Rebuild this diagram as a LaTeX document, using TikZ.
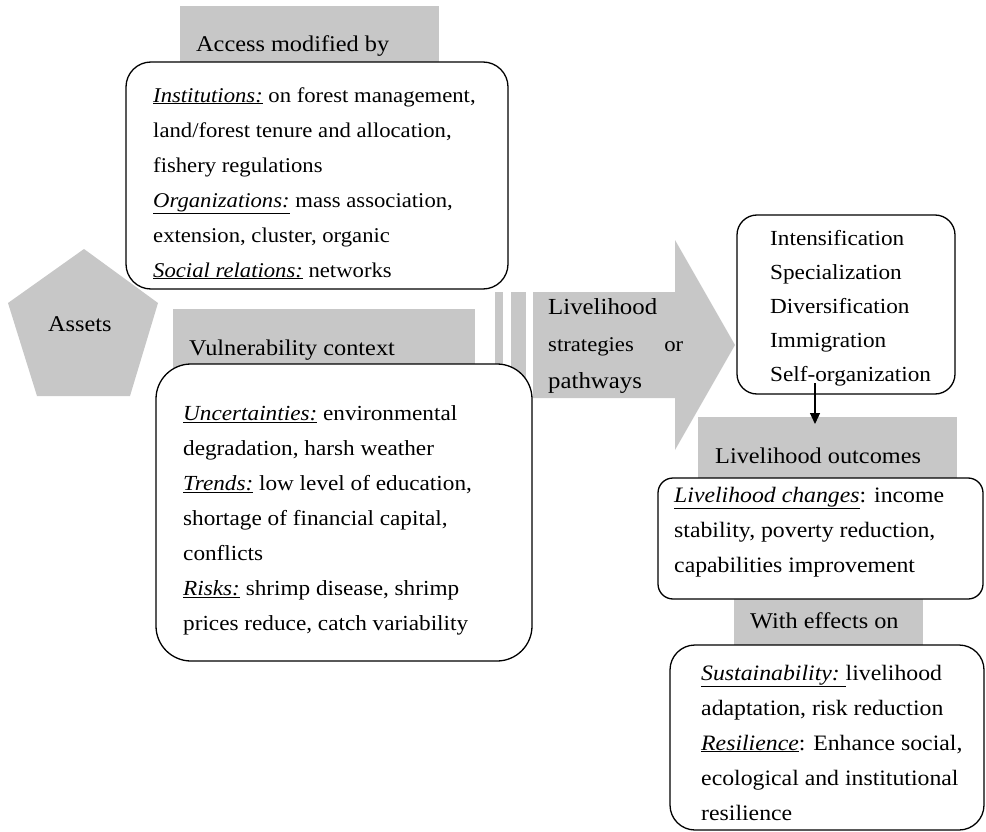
\documentclass[tikz,border=0pt]{standalone}
\usepackage{fontspec}
\setmainfont[FakeStretch=1.08]{Liberation Serif}
\usetikzlibrary{arrows.meta}
\definecolor{panel}{RGB}{199,199,199}
\newcommand{\lbl}[1]{\underline{\textit{#1}}}
\begin{document}
\begin{tikzpicture}[x=1pt,y=-1pt,
  band/.style={fill=panel,draw=none,anchor=north west,inner sep=0pt,outer sep=0pt},
  card/.style={draw=black,line width=1.3pt,fill=white,anchor=north west,
    inner sep=0pt,outer sep=0pt,rounded corners=#1},
  card/.default=25pt,
  % multi-line texts are placed by the baseline of their last line
  body/.style={anchor=base west,align=left,inner sep=0pt,
    font=\fontsize{#1}{35}\selectfont},
  body/.default=21,
  heading/.style={anchor=base west,inner sep=0pt,font=\fontsize{22.5}{25}\selectfont},
  flow/.style={line width=1.2pt,-{Triangle[width=10pt,length=11pt]}}]
\useasboundingbox (0,0) rectangle (986,832);

% grey header bands and thin bars
\node[band,minimum width=259pt,minimum height=64pt] (accesshead) at (180,6) {};
\node[band,minimum width=302pt,minimum height=61pt] (vulnhead) at (173,309) {};
\node[band,minimum width=8pt,minimum height=128pt] (barA) at (495,292) {};
\node[band,minimum width=15pt,minimum height=128pt] (barB) at (511,292) {};
\node[band,minimum width=259pt,minimum height=65pt] (outhead) at (698,417) {};
\node[band,minimum width=189pt,minimum height=51pt] (effhead) at (734,599) {};

% assets pentagon
\coordinate (pT) at (84,249);
\coordinate (pL) at (8,303);
\coordinate (pR) at (158,303);
\coordinate (pBL) at (37,396);
\coordinate (pBR) at (130,396);
\fill[panel] (pT) -- (pR) -- (pBR) -- (pBL) -- (pL) -- cycle;
\node[heading] (assets) at (48,331) {Assets};

% big strategy arrow
\coordinate (aTL) at (533,292);
\coordinate (aN1) at (675,292);
\coordinate (aN2) at (675,240);
\coordinate (aTip) at (735,345);
\coordinate (aS2) at (675,450);
\coordinate (aS1) at (675,398);
\coordinate (aBL) at (533,398);
\fill[panel] (aTL) -- (aN1) -- (aN2) -- (aTip) -- (aS2) -- (aS1) -- (aBL) -- cycle;
\node[body,font=\fontsize{23}{37}\selectfont] (pathtext) at (548,388)
  {Livelihood\\ \fontsize{21}{37}\selectfont\hbox to 135pt{strategies\hfill or}\\ pathways};

% rounded content boxes
\node[card=25pt,minimum width=382pt,minimum height=227pt] (instbox) at (126,62) {};
\node[card=35pt,minimum width=376pt,minimum height=297pt] (vulnbox) at (156,364) {};
\node[card=20pt,minimum width=218pt,minimum height=179pt] (stratbox) at (737,215) {};
\node[card=15pt,minimum width=325pt,minimum height=121pt] (chgbox) at (658,478) {};
\node[card=25pt,minimum width=314pt,minimum height=185pt] (susbox) at (670,645) {};

% headings
\node[heading] (accesstext) at (196,52) {Access modified by};
\node[heading] (vulntext) at (189,355) {Vulnerability context};
\node[heading] (outtext) at (715,463) {Livelihood outcomes};
\node[heading] (efftext) at (750,628) {With effects on};

% box contents
\node[body=21] (insttext) at (153,277)
  {\lbl{Institutions:} on forest management,\\
   land/forest tenure and allocation,\\
   fishery regulations\\
   \lbl{Organizations:} mass association,\\
   extension, cluster, organic\\
   \lbl{Social relations:} networks};
\node[body=21.5] (vulntextbody) at (183,630)
  {\lbl{Uncertainties:} environmental\\
   degradation, harsh weather\\
   \lbl{Trends:} low level of education,\\
   shortage of financial capital,\\
   conflicts\\
   \lbl{Risks:} shrimp disease, shrimp\\
   prices reduce, catch variability};
\node[body,font=\fontsize{21.5}{34}\selectfont] (strattext) at (770,381)
  {Intensification\\ Specialization\\ Diversification\\ Immigration\\ Self-organization};
\node[body=22] (chgtext) at (674,572)
  {\lbl{Livelihood changes}: income\\
   stability, poverty reduction,\\
   capabilities improvement};
\node[body=22] (sustext) at (701,820)
  {\lbl{Sustainability:\ }livelihood\\
   adaptation, risk reduction\\
   \lbl{Resilience}: Enhance social,\\
   ecological and institutional\\
   resilience};

% link from strategies to outcomes
\coordinate (linkStart) at (815,383);
\coordinate (linkEnd) at (815,424);
\draw[flow] (linkStart) -- (linkEnd);
\end{tikzpicture}
\end{document}
